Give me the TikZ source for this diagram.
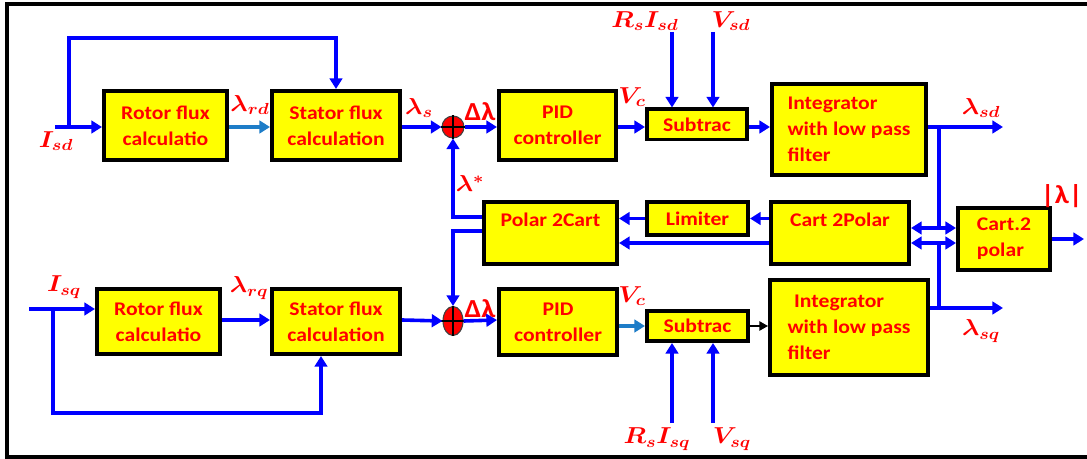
\documentclass[tikz,border=0pt]{standalone}
\usepackage{fontspec}
\setmainfont{Carlito}[FakeStretch=1.12]
\usetikzlibrary{arrows.meta,shapes.geometric,shadows}
\definecolor{bRed}{RGB}{255,0,0}
\definecolor{bBlue}{RGB}{0,0,255}
\definecolor{lBlue}{RGB}{30,125,200}
\definecolor{bYel}{RGB}{255,255,0}
\newcommand{\mlab}[1]{\scalebox{1.12}[1]{\boldmath$#1$}}
\tikzset{
  blk/.style={draw=black, line width=2.8pt, fill=bYel, text=bRed, align=center, inner sep=0pt,
    font=\bfseries\fontsize{14.5}{19.5}\selectfont,
    drop shadow={shadow xshift=0.9pt, shadow yshift=-0.9pt, fill=black!45, opacity=0.6}},
  lab/.style={text=bRed, inner sep=0pt, font=\fontsize{16.5}{18}\selectfont},
  slab/.style={text=bRed, inner sep=0pt, font=\bfseries\fontsize{19.5}{20}\selectfont},
  sumc/.style={draw=black!75, line width=0.8pt, fill=bRed, inner sep=0pt},
  wire/.style={draw=bBlue, line width=2.7pt},
  arr/.style={wire, -{Triangle[length=8pt,width=9.5pt]}},
  arrL/.style={draw=lBlue, line width=2.7pt, -{Triangle[length=8pt,width=9.5pt]}},
  arrK/.style={draw=black, line width=1.2pt, -{Triangle[length=6.5pt,width=7pt]}},
  darr/.style={wire, {Triangle[length=8pt,width=9.5pt]}-{Triangle[length=8pt,width=9.5pt]}},
}
\begin{document}
\begin{tikzpicture}[x=0.75pt, y=-0.75pt]
\useasboundingbox (0,0) rectangle (1087,459);
% frame
\draw[line width=3pt] (7,462) -- (7,4) -- (1095,4);
\draw[line width=3.5pt] (5,457) -- (1095,457);

% row helpers
\coordinate (r1) at (0,127);
\coordinate (r2) at (0,320);
\coordinate (ya) at (0,228);
\coordinate (yb) at (0,243);
\coordinate (yc) at (0,217);
\coordinate (yd) at (0,231);
\coordinate (ye) at (0,308);
% free ends
\coordinate (isd) at (55,127);
\coordinate (b1) at (69,127);
\coordinate (lsd) at (1003,127);
\coordinate (j1) at (939,127);
\coordinate (rsd) at (672,32);
\coordinate (vsd) at (713,32);
\coordinate (mag) at (1084,239);
\coordinate (isq) at (29,309);
\coordinate (b2) at (53,309);
\coordinate (fb2) at (321,413);
\coordinate (rsq) at (672,423);
\coordinate (vsq) at (713,423);
\coordinate (lsq) at (1003,308);
\coordinate (j2) at (939,308);

% blocks, top row
\node[blk, minimum width=92.5pt, minimum height=52pt] (rot1) at (165.5,125.5) {Rotor flux\\calculatio};
\node[blk, minimum width=96.2pt, minimum height=52pt] (sta1) at (336,125.5) {Stator flux\\calculation};
\node[blk, minimum width=88pt, minimum height=52pt] (pid1) at (557.5,125.5) {PID\\controller};
\node[blk, minimum width=75.2pt, minimum height=22.7pt] (sub1) at (697,124.5) {Subtrac};
\node[blk, minimum width=115.7pt, minimum height=68.5pt, align=left] (int1) at (849,129.5) {Integrator\\with low pass\\filter};
% middle row
\node[blk, minimum width=100pt, minimum height=46.7pt] (p2c) at (550.5,233) {Polar 2Cart\\\mbox{}};
\node[blk, minimum width=76pt, minimum height=25pt] (lim) at (697.5,218.5) {Limiter};
\node[blk, minimum width=103.7pt, minimum height=46.7pt] (c2p) at (840,233) {Cart 2Polar\\\mbox{}};
\node[blk, minimum width=69.2pt, minimum height=46.7pt, align=left] (c2pol) at (1004,239) {Cart.2\\polar};
% bottom row
\node[blk, minimum width=92.5pt, minimum height=49pt] (rot2) at (158.5,321.5) {Rotor flux\\calculatio};
\node[blk, minimum width=96.2pt, minimum height=49pt] (sta2) at (336,321.5) {Stator flux\\calculation};
\node[blk, minimum width=88.7pt, minimum height=49.7pt] (pid2) at (558,322) {PID\\controller};
\node[blk, minimum width=76pt, minimum height=22.7pt] (sub2) at (697.5,326) {Subtrac};
\node[blk, minimum width=118.7pt, minimum height=71.5pt, align=left] (int2) at (849,327.5) {\hspace{5pt}Integrator\\with low pass\\filter};

% summing junctions
\node[sumc, circle, minimum size=16.5pt] (s1) at (453,127) {};
\draw[black, line width=0.8pt] (s1.north) -- (s1.south) (s1.west) -- (s1.east);
\node[sumc, ellipse, minimum width=15pt, minimum height=21.75pt] (s2) at (453,321) {};
\draw[black, line width=0.8pt] (s2.north) -- (s2.south) ([xshift=-3pt]s2.west) -- (s2.east);

% top row connectors
\draw[arr] (isd) -- (isd -| rot1.west);
\draw[arr] (b1) -- ++(0,-89) -| (sta1.north);
\draw[arrL] (rot1.east |- r1) -- (sta1.west |- r1);
\draw[arr] (sta1.east |- r1) -- (s1.west);
\draw[arr] (s1.east) -- (pid1.west |- r1);
\draw[arr] (pid1.east |- r1) -- (sub1.west |- r1);
\draw[arr] (sub1.east |- r1) -- (int1.west |- r1);
\draw[arr] (rsd) -- (rsd |- sub1.north);
\draw[arr] (vsd) -- (vsd |- sub1.north);
\draw[arr] (int1.east |- r1) -- (lsd);
\draw[wire] (j1) -- (j1 |- ya);
% middle connectors
\draw[darr] (c2p.east |- ya) -- (c2pol.west |- ya);
\draw[darr] (c2p.east |- yb) -- (c2pol.west |- yb);
\draw[wire] (j2) -- (j2 |- yb);
\draw[arr] (c2pol.east) -- (mag);
\draw[arr] (c2p.west |- lim) -- (lim.east);
\draw[arr] (lim.west) -- (p2c.east |- lim);
\draw[arr] (c2p.west |- yb) -- (p2c.east |- yb);
\draw[arr] (p2c.west |- yc) -| (s1.south);
\draw[arr] (p2c.west |- yd) -| (s2.north);
% bottom row connectors
\draw[arr] (isq) -- (isq -| rot2.west);
\draw[arr] (b2) |- (fb2) -- (fb2 |- sta2.south);
\draw[arr] (rot2.east |- r2) -- (sta2.west |- r2);
\draw[arr] (sta2.east |- r2) -- (s2.west);
\draw[arr] (s2.east) -- (pid2.west |- r2);
\draw[arrL] (pid2.east |- sub2) -- (sub2.west);
\draw[arrK] (sub2.east) -- (int2.west |- sub2);
\draw[arr] (rsq) -- (rsq |- sub2.south);
\draw[arr] (vsq) -- (vsq |- sub2.south);
\draw[arr] (int2.east |- ye) -- (lsq);

% labels
\node[lab] (Lisd) at (56,141) {\mlab{I_{sd}}};
\node[lab] (Lrd) at (250,105) {\mlab{\lambda_{rd}}};
\node[lab] (Ls) at (419,108) {\mlab{\lambda_{s}}};
\node[slab] (Ldl1) at (480,112) {Δλ};
\node[lab] (Lvc1) at (632,97) {\mlab{V_{c}}};
\node[lab] (Lrsd) at (645,21) {\mlab{R_sI_{sd}}};
\node[lab] (Lvsd) at (731,21) {\mlab{V_{sd}}};
\node[lab] (Llsd) at (981,108) {\mlab{\lambda_{sd}}};
\node[slab, anchor=east] (Lmag) at (1083,196) {|λ|};
\node[lab] (Lst) at (470,184) {\mlab{\lambda^{*}}};
\node[lab] (Llsq) at (981,331) {\mlab{\lambda_{sq}}};
\node[lab] (Lisq) at (64,287) {\mlab{I_{sq}}};
\node[lab] (Lrq) at (249,288) {\mlab{\lambda_{rq}}};
\node[slab] (Ldl2) at (480,309) {Δλ};
\node[lab] (Lvc2) at (632,296) {\mlab{V_{c}}};
\node[lab] (Lrsq) at (657,439) {\mlab{R_sI_{sq}}};
\node[lab] (Lvsq) at (732,439) {\mlab{V_{sq}}};
\end{tikzpicture}
\end{document}
